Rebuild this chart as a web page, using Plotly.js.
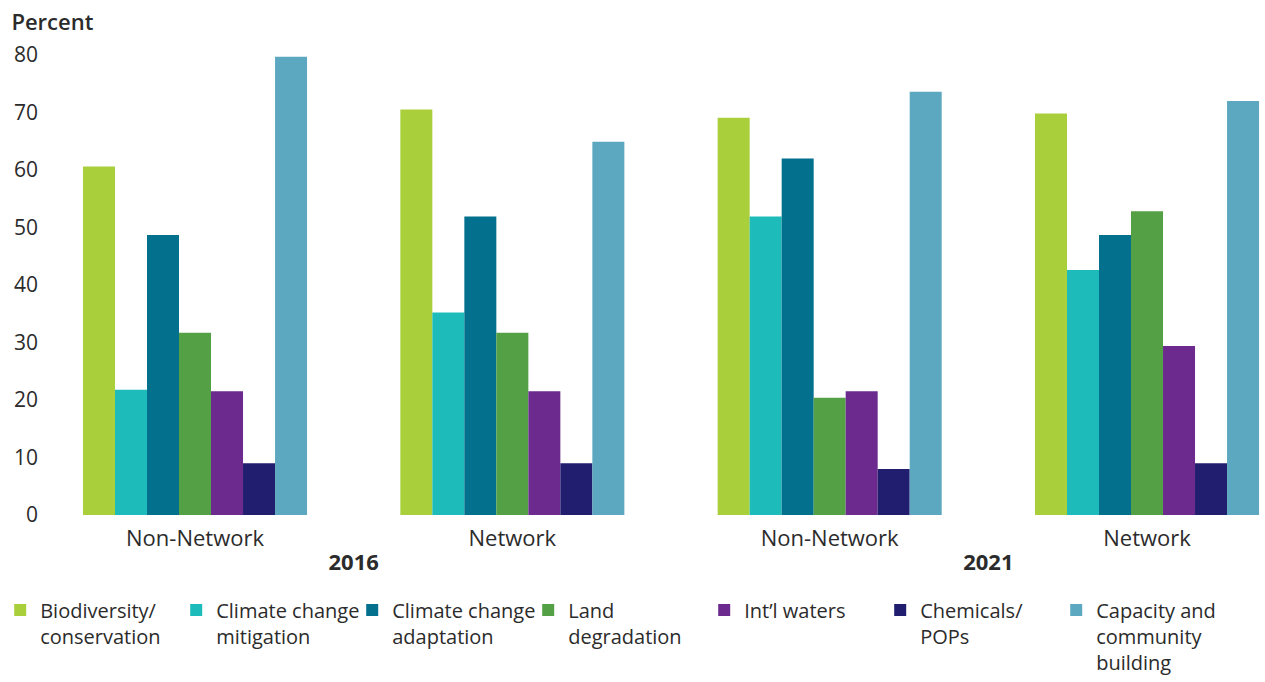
<!DOCTYPE html>
<html>
<head>
<meta charset="utf-8">
<script src="https://cdn.plot.ly/plotly-3.0.1.min.js"></script>
<style>html,body{margin:0;padding:0;background:#fff;}#chart{width:1265px;height:682px;}</style>
</head>
<body>
<div id="chart"></div>
<script>
// Data
const years = ['<b>2016</b>', '<b>2016</b>', '<b>2021</b>', '<b>2021</b>'];
const groups = ['Non-Network', 'Network', 'Non-Network', 'Network'];

const seriesNames = [
  'Biodiversity/<br>conservation',
  'Climate change<br>mitigation',
  'Climate change<br>adaptation',
  'Land<br>degradation',
  'Int\u2019l waters',
  'Chemicals/<br>POPs',
  'Capacity and<br>community<br>building'
];

const biodiversity   = [60.6, 70.5, 69.1, 69.8];
const ccMitigation   = [21.8, 35.2, 51.9, 42.6];
const ccAdaptation   = [48.7, 51.9, 62.0, 48.7];
const landDegrad     = [31.7, 31.7, 20.4, 52.8];
const intlWaters     = [21.5, 21.5, 21.5, 29.4];
const chemicals      = [9.0, 9.0, 8.0, 9.0];
const capacity       = [79.7, 64.9, 73.6, 72.0];

const yTickVals = [0, 10, 20, 30, 40, 50, 60, 70, 80];

const seriesValues = [biodiversity, ccMitigation, ccAdaptation, landDegrad, intlWaters, chemicals, capacity];
const colors = ['#A9CF3B', '#1DBBBA', '#03708E', '#54A045', '#6C2A8E', '#221E6F', '#5DA8C1'];

const FONT = '"Open Sans", Roboto, sans-serif';
const TXT = '#2b2b2b';

const traces = seriesValues.map((vals, i) => ({
  type: 'bar',
  name: seriesNames[i],
  x: [years, groups],
  y: vals,
  marker: {color: colors[i], line: {width: 0}},
  hoverinfo: 'y+name'
}));

const layout = {
  width: 1265,
  height: 682,
  margin: {l: 65, r: 0, t: 40, b: 165},
  paper_bgcolor: '#ffffff',
  plot_bgcolor: '#ffffff',
  font: {family: FONT, size: 20, color: TXT},
  barmode: 'group',
  bargap: 0.294,
  bargroupgap: 0,
  showlegend: true,
  title: {
    text: 'Percent',
    xref: 'container', yref: 'container',
    x: 0.009, xanchor: 'left',
    y: 0.967, yanchor: 'middle',
    font: {family: FONT, size: 22, color: TXT, weight: 600}
  },
  xaxis: {
    type: 'multicategory',
    range: [-0.4097, 3.3718],
    showdividers: false,
    showgrid: false,
    showline: false,
    zeroline: false,
    ticks: '',
    ticklabelstandoff: 8,
    tickfont: {family: FONT, size: 22, color: TXT}
  },
  yaxis: {
    range: [0, 82.6],
    tickvals: yTickVals,
    showgrid: false,
    showline: false,
    zeroline: false,
    ticks: '',
    ticklabelstandoff: 26,
    tickfont: {family: FONT, size: 21, color: TXT}
  },
  legend: {
    orientation: 'h',
    xref: 'paper', yref: 'paper',
    x: -0.054, xanchor: 'left',
    y: -0.159, yanchor: 'top',
    valign: 'top',
    traceorder: 'normal',
    entrywidth: 131,
    entrywidthmode: 'pixels',
    font: {family: FONT, size: 20, color: TXT},
    itemclick: false
  }
};

Plotly.newPlot('chart', traces, layout, {displayModeBar: false, staticPlot: true});
</script>
</body>
</html>
